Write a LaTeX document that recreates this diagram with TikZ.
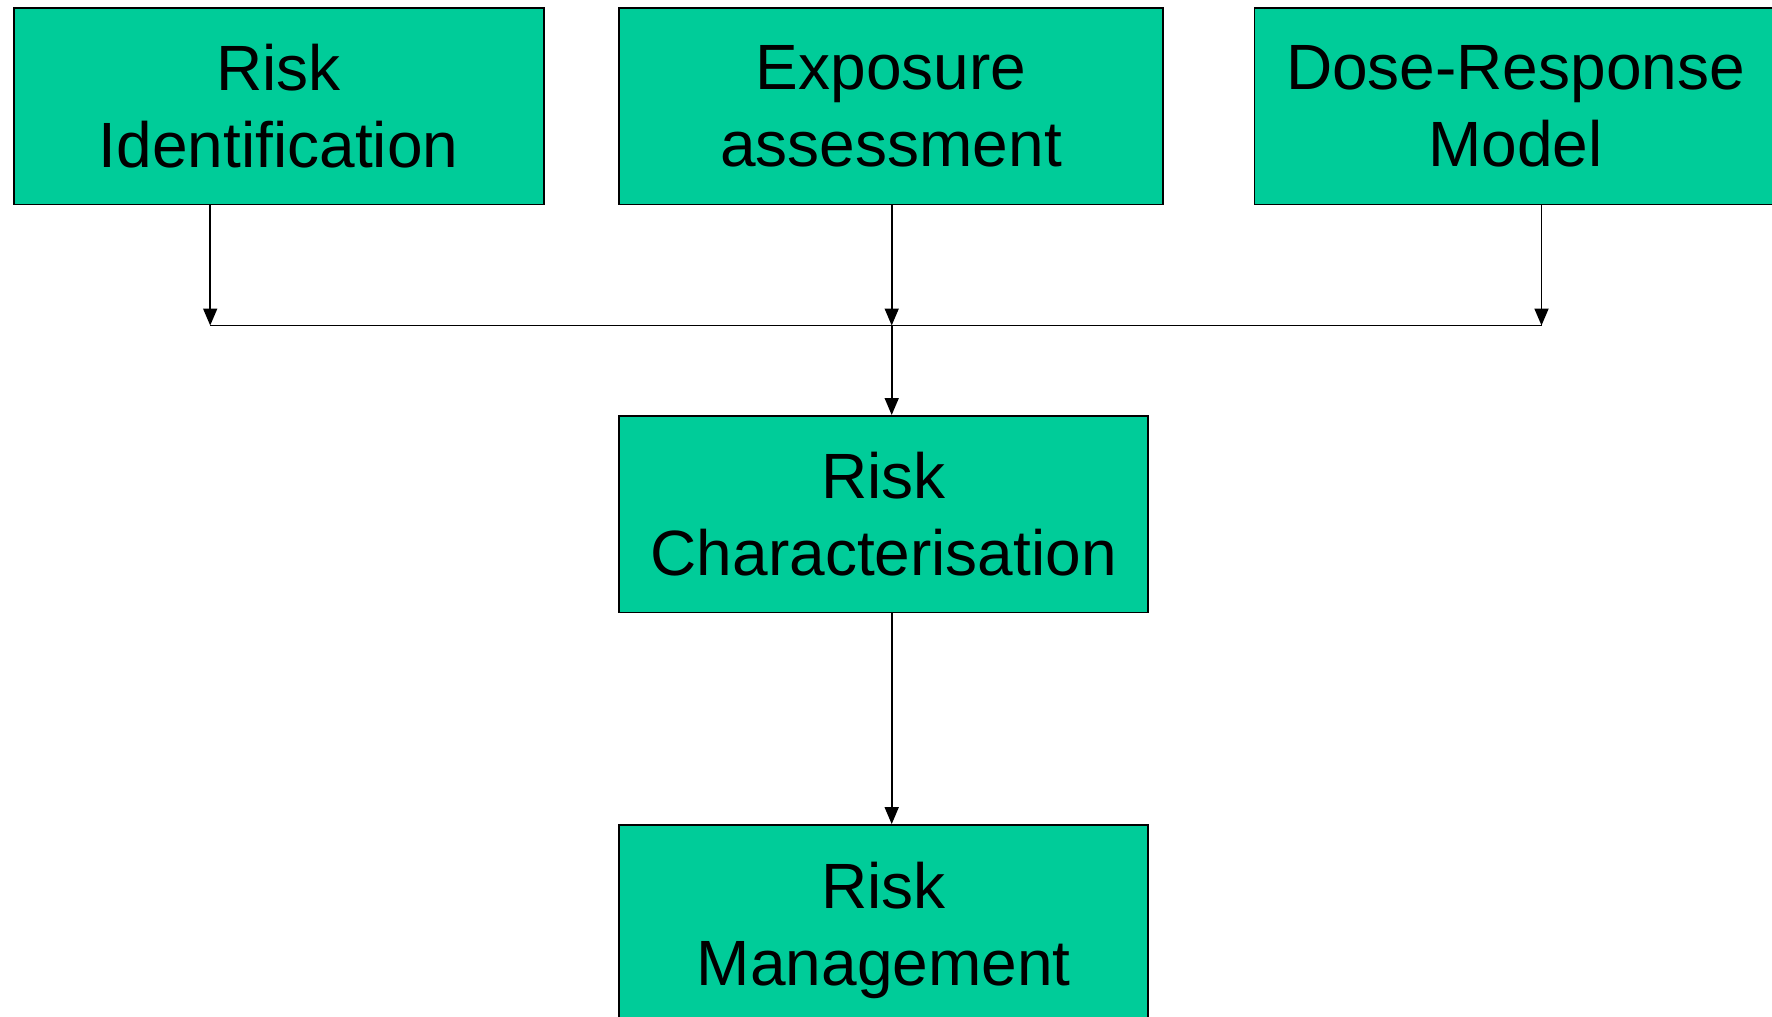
\documentclass[tikz,border=0pt]{standalone}
\usepackage{fontspec}
\setmainfont{Liberation Sans}
\usepackage{xcolor}
\usepackage{tikz}
\usetikzlibrary{arrows.meta,positioning}

\definecolor{riskgreen}{RGB}{0,204,153}

\begin{document}
\begin{tikzpicture}[
    x=0.5pt, y=-0.5pt,
    stage/.style={rectangle, draw=black, line width=0.9pt, fill=riskgreen, align=center, inner sep=0pt, minimum height=98.3pt, font=\fontsize{32}{38.5}\selectfont},
    arrow/.style={-{Triangle[length=8.5pt,width=7pt]}, line width=0.85pt},
    link/.style={line width=0.85pt}
]
    \clip (0,0) rectangle (1772,1017);

    % Gorny rzad
    \node[stage, minimum width=265pt] (ident) at (278.6,106.2) {Risk\\Identification};
    \node[stage, minimum width=271.8pt] (expo) at (891.1,106.2) {Exposure\\assessment};
    \node[stage, minimum width=261pt] (dose) at (1515.5,106.2) {Dose-Response\\Model};

    % Punkty na linii zbiorczej
    \coordinate (jL) at (210.2,325.5);
    \coordinate (jM) at (891.7,325.5);
    \coordinate (jR) at (1541.5,325.5);

    % Dolna kolumna
    \node[stage, minimum width=264.5pt] (charac) at (883.75,514.2) {Risk\\Characterisation};
    \node[stage, minimum width=264.5pt, minimum height=105pt] (manage) at (883.75,930) {Risk\\Management};

    % Strzalki do linii
    \draw[arrow] (ident.south -| jL) -- (jL);
    \draw[arrow] (expo.south -| jM) -- (jM);
    \draw[arrow] (dose.south -| jR) -- (jR);
    \draw[link] (jL) -- (jR);

    % Dalej w dol
    \draw[arrow] (jM) -- (jM |- charac.north);
    \draw[arrow] (charac.south -| jM) -- (jM |- manage.north);
\end{tikzpicture}
\end{document}
